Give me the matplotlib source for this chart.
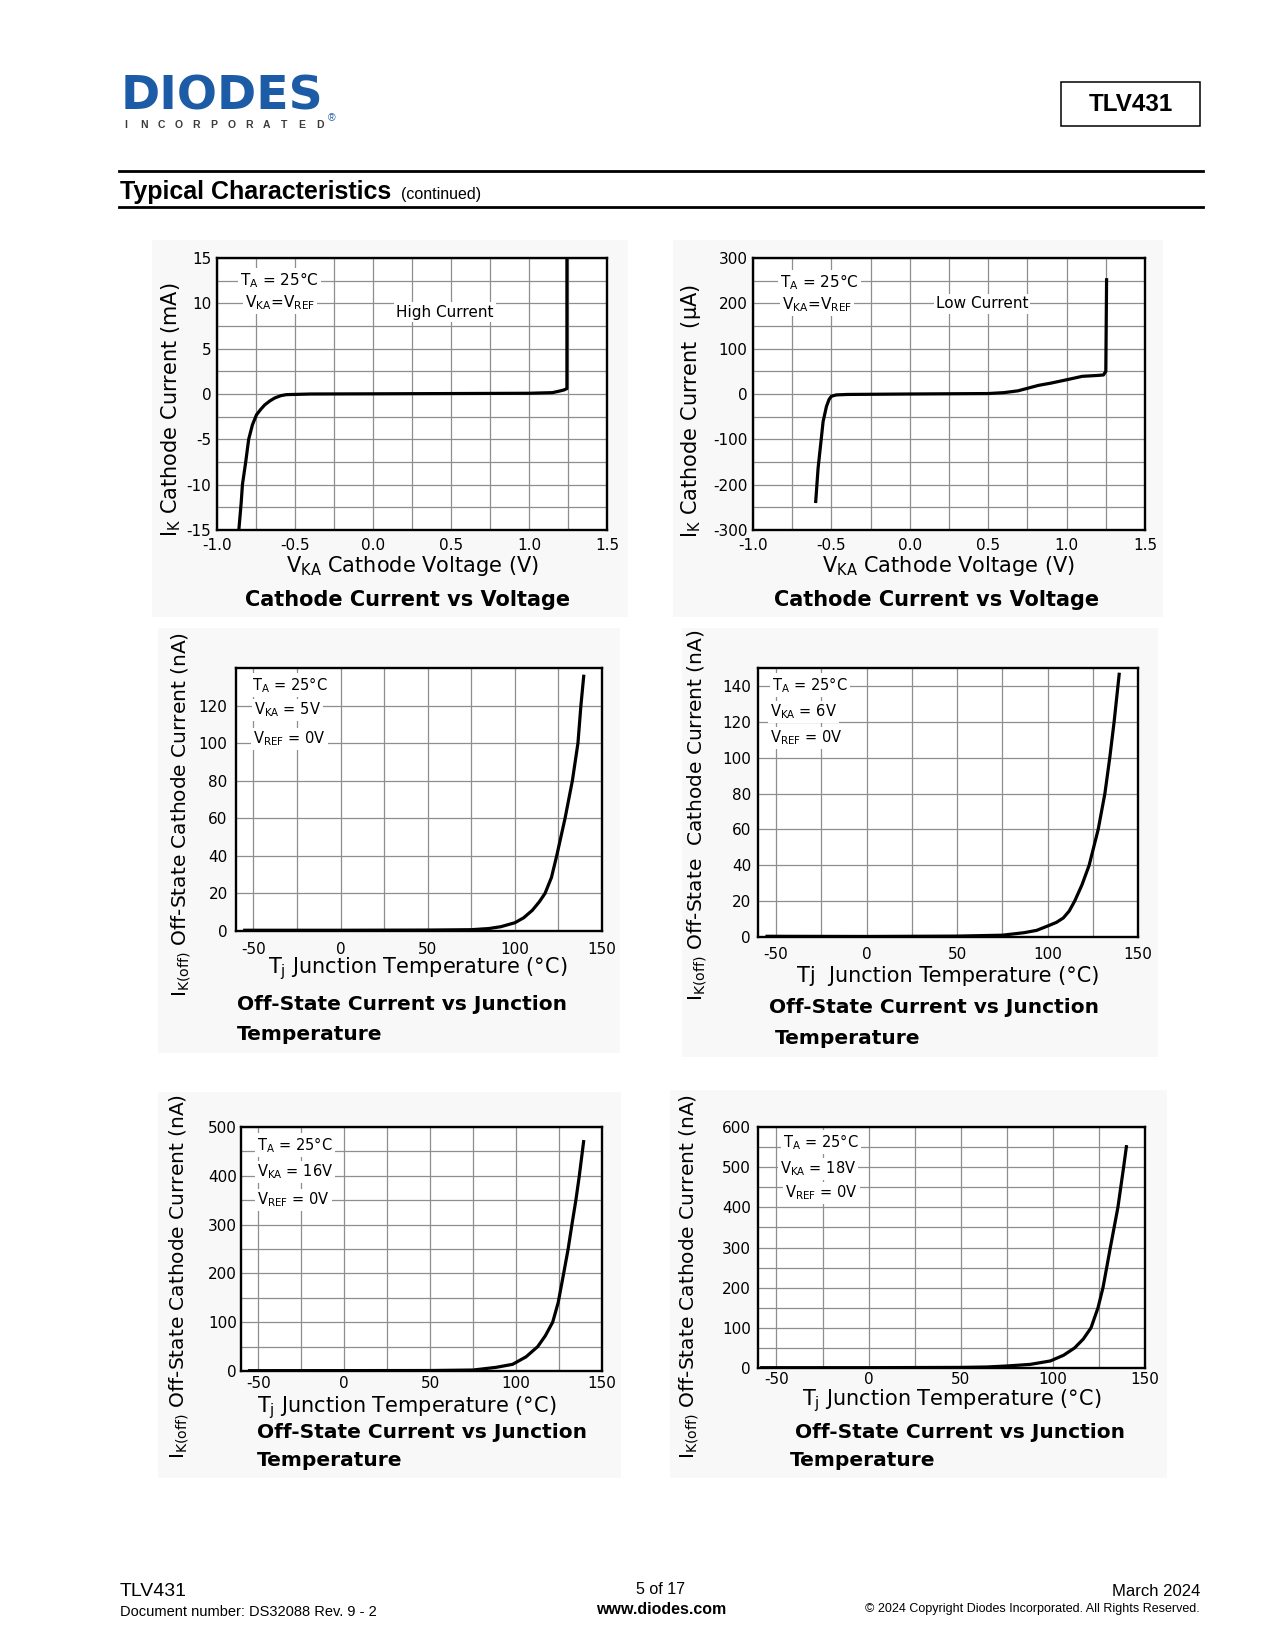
import matplotlib
matplotlib.use("Agg")
import matplotlib.pyplot as plt
from matplotlib.patches import Rectangle
from matplotlib.lines import Line2D

# ---------------- data ----------------
# Cathode current vs voltage, high current (mA)
vka_high = [-0.86, -0.845, -0.837, -0.816, -0.797, -0.773, -0.747, -0.72, -0.694,
            -0.66, -0.63, -0.59, -0.555, -0.4, 0.0, 0.5, 1.0, 1.15, 1.19, 1.225, 1.243, 1.243]
ik_high = [-15, -12, -10, -7.5, -5, -3.4, -2.3, -1.7, -1.2,
           -0.75, -0.44, -0.18, -0.07, 0.0, 0.02, 0.05, 0.08, 0.15, 0.3, 0.45, 0.6, 15]

# Cathode current vs voltage, low current (uA)
vka_low = [-0.6, -0.585, -0.565, -0.553, -0.532, -0.515, -0.5, -0.468, -0.4, 0.0,
           0.5, 0.6, 0.69, 0.82, 0.9, 0.995, 1.1, 1.2, 1.235, 1.25, 1.255]
ik_low = [-237, -164, -100, -61, -28, -12, -5, -2, -1, 0,
          1, 3, 7, 19, 24, 31, 39, 41, 42, 50, 252]

# Off-state current vs junction temperature (nA)
tj_5v = [-55, 0, 50, 75, 85, 92, 100, 105, 110, 114, 117.3, 121, 124, 128.8, 133, 136.2, 137.9, 139.5]
ioff_5v = [0.4, 0.4, 0.5, 0.7, 1.3, 2.3, 4.4, 7, 11, 15.5, 20, 28.5, 40, 60, 80, 100, 120, 135.6]

tj_6v = [-55, 0, 50, 75, 87, 94, 101, 105, 108.7, 112, 115, 119, 123, 128, 131.7, 134.4, 136.8, 139.6]
ioff_6v = [0.4, 0.3, 0.5, 1, 2.4, 3.7, 6.5, 8.2, 10.6, 14.5, 20, 29, 40, 60, 80, 100, 120, 146.5]

tj_16v = [-55, 0, 50, 75, 88.4, 98, 105.8, 112.6, 117, 121.3, 124.5, 127.7, 130.3, 132.5,
          134.8, 136.8, 139.3]
ioff_16v = [0.7, 0.8, 1, 2, 7.5, 13.7, 29, 50, 72, 100, 140, 200, 250, 300,
            350, 400, 470]

tj_18v = [-58, 0, 50, 64, 75, 87.7, 98.6, 105.8, 111.8, 116.5, 120.7, 124.5, 127.2, 131.2,
          135.3, 138.4, 139.9]
ioff_18v = [0.8, 0.8, 1.5, 2.5, 5, 9, 17.5, 31.7, 50, 72, 100, 150, 200, 300,
            400, 500, 551]

# tick values / labels
volt_ticks = [-1.0, -0.5, 0.0, 0.5, 1.0, 1.5]
volt_labels = ["-1.0", "-0.5", "0.0", "0.5", "1.0", "1.5"]
volt_grid = [-0.75, -0.25, 0.25, 0.75, 1.25]
ma_ticks = [-15, -10, -5, 0, 5, 10, 15]
ma_grid = [-12.5, -7.5, -2.5, 2.5, 7.5, 12.5]
ua_ticks = [-300, -200, -100, 0, 100, 200, 300]
ua_grid = [-250, -150, -50, 50, 150, 250]
temp_ticks = [-50, 0, 50, 100, 150]
temp_grid = [-25, 25, 75, 125]
na5_ticks = [0, 20, 40, 60, 80, 100, 120]
na6_ticks = [0, 20, 40, 60, 80, 100, 120, 140]
na16_ticks = [0, 100, 200, 300, 400, 500]
na16_grid = [50, 150, 250, 350, 450]
na18_ticks = [0, 100, 200, 300, 400, 500, 600]
na18_grid = [50, 150, 250, 350, 450, 550]

# ---------------- figure ----------------
W, H = 1275, 1650
fig = plt.figure(figsize=(12.75, 16.5), dpi=100)
plt.rcParams["mathtext.fontset"] = "dejavusans"

CH = ["DejaVu Sans"]
DOC = ["Liberation Sans", "DejaVu Sans"]


def fx(x):
    return x / W


def fy(y):
    return 1 - y / H


def text(x, y, s, **kw):
    return fig.text(fx(x), fy(y), s, **kw)


def panel(x0, y0, x1, y1):
    fig.patches.append(Rectangle((fx(x0), fy(y1)), (x1 - x0) / W, (y1 - y0) / H,
                                 transform=fig.transFigure, facecolor="#f8f8f8",
                                 edgecolor="none", zorder=-5))


def chart(box, x, y, xlim, ylim, xt, xl, xg, yt, yg, xpad, ypad, lsize):
    l, t, r, b = box
    ax = fig.add_axes([fx(l), fy(b), (r - l) / W, (b - t) / H])
    ax.plot(x, y, color="black", lw=2.3, solid_joinstyle="round", zorder=3)
    ax.set_xlim(*xlim)
    ax.set_ylim(*ylim)
    ax.set_xticks(xt)
    ax.set_xticklabels(xl)
    ax.set_xticks(xg, minor=True)
    ax.set_yticks(yt)
    ax.set_yticklabels([str(v) for v in yt])
    ax.set_yticks(yg, minor=True)
    ax.grid(True, which="both", color="#8e8e8e", lw=0.9)
    ax.set_axisbelow(True)
    ax.tick_params(which="both", length=0, labelsize=lsize, colors="black")
    ax.tick_params(axis="x", pad=xpad)
    ax.tick_params(axis="y", pad=ypad)
    for lab in ax.get_xticklabels() + ax.get_yticklabels():
        lab.set_family(CH)
    for s in ax.spines.values():
        s.set_linewidth(1.7)
        s.set_color("black")
    ax.set_facecolor("white")
    return ax


box_kw = dict(facecolor="white", edgecolor="none", pad=1.5)

# ---------------- header ----------------
text(121, 109, "DIODES", family=CH, weight="bold", fontsize=34, color="#1c5ba6",
     va="baseline", ha="left")
fig.add_artist(Line2D([fx(123), fx(318)], [fy(93)] * 2, color="white", lw=1.0))
for k, ch in enumerate("INCORPORATED"):
    text(126 + k * 17.6, 125, ch, family=DOC, weight="bold", fontsize=7.5,
         color="#3c3c3c", ha="center", va="center")
text(332, 118, "®", family=DOC, fontsize=7.5, color="#1c5ba6", ha="center", va="center")

fig.patches.append(Rectangle((fx(1061), fy(126)), 139 / W, 44 / H, transform=fig.transFigure,
                             facecolor="white", edgecolor="black", lw=1.1))
text(1130.5, 104.5, "TLV431", family=DOC, weight="bold", fontsize=17.5, ha="center", va="center")

fig.add_artist(Line2D([fx(119), fx(1203)], [fy(170.5)] * 2, color="black", lw=2.0))
fig.add_artist(Line2D([fx(119), fx(1203)], [fy(207)] * 2, color="black", lw=2.0))
text(120, 199, "Typical Characteristics", family=DOC, weight="bold", fontsize=18,
     va="baseline", ha="left")
text(401, 199, "(continued)", family=DOC, fontsize=11.5, va="baseline", ha="left")

# ---------------- panels ----------------
panel(152, 240, 628, 617)
panel(673, 240, 1163, 617)
panel(158, 628, 620, 1053)
panel(682, 628, 1158, 1057)
panel(158, 1092, 621, 1478)
panel(670, 1090, 1167, 1478)

# ---------------- chart 1: high current ----------------
chart((217, 258, 607, 530), vka_high, ik_high, (-1.0, 1.5), (-15, 15),
      volt_ticks, volt_labels, volt_grid, ma_ticks, ma_grid, 6, 4, 11)
text(240, 280, r"$\mathregular{T_A}$ = 25°C", family=CH, fontsize=11, ha="left",
     va="center", bbox=box_kw)
text(245, 303, r"$\mathregular{V_{KA}}$=$\mathregular{V_{REF}}$", family=CH, fontsize=11,
     ha="left", va="center", bbox=box_kw)
text(445, 312, "High Current", family=CH, fontsize=11, ha="center", va="center", bbox=box_kw)
text(171, 410, r"$\mathregular{I_K}$ Cathode Current (mA)", family=CH, fontsize=15,
     rotation=90, ha="center", va="center")
text(412, 566, r"$\mathregular{V_{KA}}$ Cathode Voltage (V)", family=CH, fontsize=15,
     ha="center", va="center")
text(408, 600, "Cathode Current vs Voltage", family=CH, weight="bold", fontsize=15,
     ha="center", va="center")

# ---------------- chart 2: low current ----------------
chart((753, 258, 1145, 530), vka_low, ik_low, (-1.0, 1.5), (-300, 300),
      volt_ticks, volt_labels, volt_grid, ua_ticks, ua_grid, 6, 4, 11)
text(780, 282, r"$\mathregular{T_A}$ = 25°C", family=CH, fontsize=11, ha="left",
     va="center", bbox=box_kw)
text(782, 305, r"$\mathregular{V_{KA}}$=$\mathregular{V_{REF}}$", family=CH, fontsize=11,
     ha="left", va="center", bbox=box_kw)
text(982, 304, "Low Current", family=CH, fontsize=11, ha="center", va="center", bbox=box_kw)
text(691, 411, r"$\mathregular{I_K}$ Cathode Current  (µA)", family=CH, fontsize=15,
     rotation=90, ha="center", va="center")
text(948, 566, r"$\mathregular{V_{KA}}$ Cathode Voltage (V)", family=CH, fontsize=15,
     ha="center", va="center")
text(937, 600, "Cathode Current vs Voltage", family=CH, weight="bold", fontsize=15,
     ha="center", va="center")

# ---------------- chart 3: 5 V ----------------
chart((236, 668, 602, 931), tj_5v, ioff_5v, (-60, 150), (0, 140),
      temp_ticks, [str(v) for v in temp_ticks], temp_grid, na5_ticks, [], 8, 6, 11)
text(252, 685, r"$\mathregular{T_A}$ = 25°C", family=CH, fontsize=10.5, ha="left",
     va="center", bbox=box_kw)
text(254, 710, r"$\mathregular{V_{KA}}$ = 5V", family=CH, fontsize=10.5, ha="left",
     va="center", bbox=box_kw)
text(253, 739, r"$\mathregular{V_{REF}}$ = 0V", family=CH, fontsize=10.5, ha="left",
     va="center", bbox=box_kw)
text(181, 815, r"$\mathregular{I_{K(off)}}$ Off-State Cathode Current (nA)", family=CH,
     fontsize=14.5, rotation=90, ha="center", va="center")
text(418, 969, r"$\mathregular{T_j}$ Junction Temperature (°C)", family=CH, fontsize=15,
     ha="center", va="center")
text(237, 1004, "Off-State Current vs Junction", family=CH, weight="bold", fontsize=14.5,
     ha="left", va="center")
text(237, 1035, "Temperature", family=CH, weight="bold", fontsize=14.5, ha="left", va="center")

# ---------------- chart 4: 6 V ----------------
chart((758, 668, 1138, 937), tj_6v, ioff_6v, (-60, 150), (0, 150),
      temp_ticks, [str(v) for v in temp_ticks], temp_grid, na6_ticks, [], 7, 5, 11)
text(772, 685, r"$\mathregular{T_A}$ = 25°C", family=CH, fontsize=10.5, ha="left",
     va="center", bbox=box_kw)
text(770, 712, r"$\mathregular{V_{KA}}$ = 6V", family=CH, fontsize=10.5, ha="left",
     va="center", bbox=box_kw)
text(770, 738, r"$\mathregular{V_{REF}}$ = 0V", family=CH, fontsize=10.5, ha="left",
     va="center", bbox=box_kw)
text(697, 815, r"$\mathregular{I_{K(off)}}$ Off-State  Cathode Current (nA)", family=CH,
     fontsize=14.5, rotation=90, ha="center", va="center")
text(948, 976, "Tj  Junction Temperature (°C)", family=CH, fontsize=15,
     ha="center", va="center")
text(769, 1007, "Off-State Current vs Junction", family=CH, weight="bold", fontsize=14.5,
     ha="left", va="center")
text(775, 1039, "Temperature", family=CH, weight="bold", fontsize=14.5, ha="left", va="center")

# ---------------- chart 5: 16 V ----------------
chart((241, 1127, 602, 1371), tj_16v, ioff_16v, (-60, 150), (0, 500),
      temp_ticks, [str(v) for v in temp_ticks], temp_grid, na16_ticks, na16_grid, 3.5, 3, 11)
text(257, 1145, r"$\mathregular{T_A}$ = 25°C", family=CH, fontsize=10.5, ha="left",
     va="center", bbox=box_kw)
text(257, 1172, r"$\mathregular{V_{KA}}$ = 16V", family=CH, fontsize=10.5, ha="left",
     va="center", bbox=box_kw)
text(257, 1200, r"$\mathregular{V_{REF}}$ = 0V", family=CH, fontsize=10.5, ha="left",
     va="center", bbox=box_kw)
text(179, 1277, r"$\mathregular{I_{K(off)}}$ Off-State Cathode Current (nA)", family=CH,
     fontsize=14.5, rotation=90, ha="center", va="center")
text(407, 1408, r"$\mathregular{T_j}$ Junction Temperature (°C)", family=CH, fontsize=15,
     ha="center", va="center")
text(257, 1433, "Off-State Current vs Junction", family=CH, weight="bold", fontsize=14.5,
     ha="left", va="center")
text(257, 1461, "Temperature", family=CH, weight="bold", fontsize=14.5, ha="left", va="center")

# ---------------- chart 6: 18 V ----------------
chart((758, 1127, 1145, 1368), tj_18v, ioff_18v, (-60, 150), (0, 600),
      temp_ticks, [str(v) for v in temp_ticks], temp_grid, na18_ticks, na18_grid, 3, 5, 11)
text(783, 1142, r"$\mathregular{T_A}$ = 25°C", family=CH, fontsize=10.5, ha="left",
     va="center", bbox=box_kw)
text(780, 1169, r"$\mathregular{V_{KA}}$ = 18V", family=CH, fontsize=10.5, ha="left",
     va="center", bbox=box_kw)
text(785, 1193, r"$\mathregular{V_{REF}}$ = 0V", family=CH, fontsize=10.5, ha="left",
     va="center", bbox=box_kw)
text(689, 1277, r"$\mathregular{I_{K(off)}}$ Off-State Cathode Current (nA)", family=CH,
     fontsize=14.5, rotation=90, ha="center", va="center")
text(952, 1401, r"$\mathregular{T_j}$ Junction Temperature (°C)", family=CH, fontsize=15,
     ha="center", va="center")
text(795, 1432, "Off-State Current vs Junction", family=CH, weight="bold", fontsize=14.5,
     ha="left", va="center")
text(790, 1460, "Temperature", family=CH, weight="bold", fontsize=14.5, ha="left", va="center")

# ---------------- footer ----------------
text(120, 1592, "TLV431", family=DOC, fontsize=14, ha="left", va="center")
text(120, 1612, "Document number: DS32088 Rev. 9 - 2", family=DOC, fontsize=10.5,
     ha="left", va="center")
text(661, 1590, "5 of 17", family=DOC, fontsize=11.5, ha="center", va="center")
text(661, 1609, "www.diodes.com", family=DOC, weight="bold", fontsize=11.5,
     ha="center", va="center")
text(1200, 1592, "March 2024", family=DOC, fontsize=12, ha="right", va="center")
text(1200, 1609, "© 2024 Copyright Diodes Incorporated. All Rights Reserved.", family=DOC,
     fontsize=9, ha="right", va="center")

fig.savefig("out.png", dpi=100, facecolor="white")
